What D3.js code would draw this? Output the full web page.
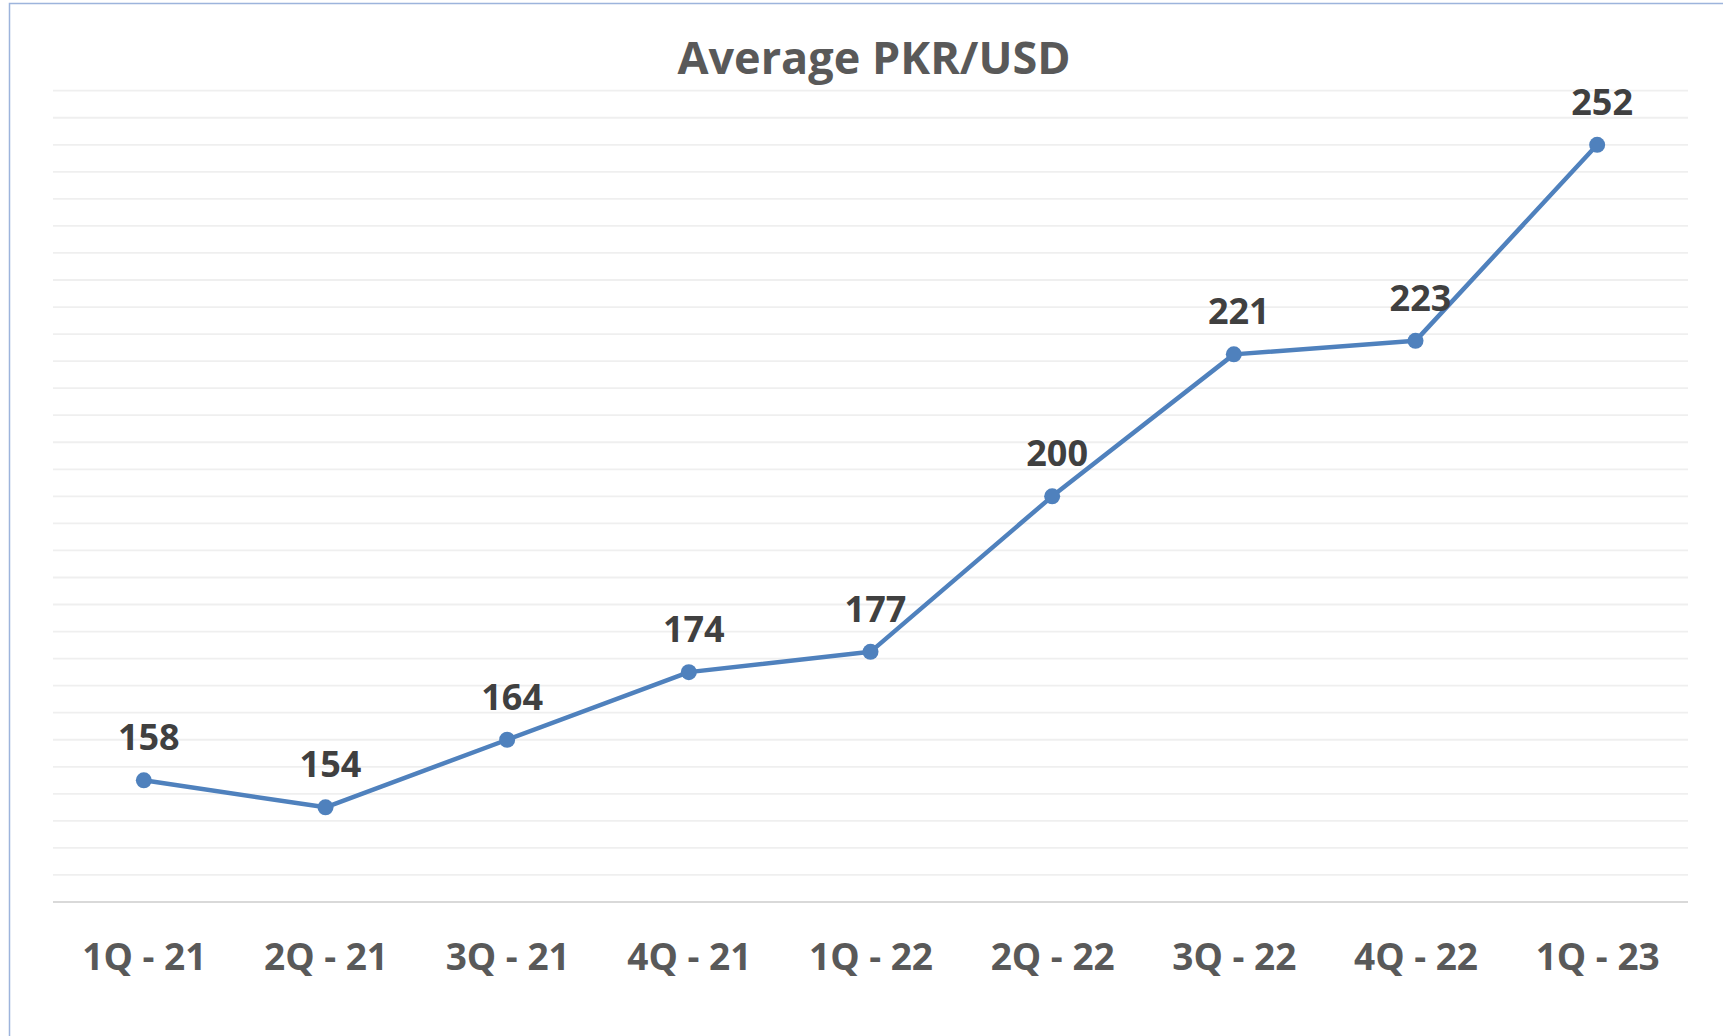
<!DOCTYPE html>
<html>
<head>
<meta charset="utf-8">
<script src="https://cdn.jsdelivr.net/npm/d3@7"></script>
<style>
  body { margin: 0; background: #fff; }
</style>
</head>
<body>
<div id="chart"></div>
<script>
// Chart data
const quarters = ["1Q - 21", "2Q - 21", "3Q - 21", "4Q - 21", "1Q - 22", "2Q - 22", "3Q - 22", "4Q - 22", "1Q - 23"];
const avgRate = [158, 154, 164, 174, 177, 200, 221, 223, 252];
const yTicks = d3.range(140, 261, 4); // gridline values

const chartTitle = "Average PKR/USD";

// Define the dimensions and margins for the SVG
const totalWidth = 1723, totalHeight = 1036;
const margin = {top: 90.7, right: 35, bottom: 134, left: 53};
const width = totalWidth - margin.left - margin.right,
      height = totalHeight - margin.top - margin.bottom;

const svg = d3.select("#chart").append("svg")
    .attr("width", totalWidth)
    .attr("height", totalHeight);

// Outer chart border (only top and left show in the frame)
svg.append("rect")
    .attr("x", 9.5)
    .attr("y", 3.5)
    .attr("width", totalWidth + 20)
    .attr("height", totalHeight + 20)
    .attr("fill", "none")
    .attr("stroke", "#9db4dc")
    .attr("stroke-width", 1.5);

const g = svg.append("g")
    .attr("transform", `translate(${margin.left},${margin.top})`);

// Scales
const x = d3.scalePoint()
    .domain(quarters)
    .range([0, width])
    .padding(0.5);

const y = d3.scaleLinear()
    .domain([140, 260])
    .range([height, 0]);

// Horizontal gridlines
g.append("g")
    .selectAll("line")
    .data(yTicks.filter(d => d > 140))
    .enter()
    .append("line")
    .attr("x1", 0)
    .attr("x2", width)
    .attr("y1", d => y(d))
    .attr("y2", d => y(d))
    .attr("stroke", "#efefef")
    .attr("stroke-width", 1.8);

// Category axis
const xAxis = g.append("g")
    .attr("transform", `translate(0,${height})`)
    .call(d3.axisBottom(x).tickSize(0).tickPadding(0));

xAxis.select(".domain")
    .attr("d", `M0,0H${width}`)
    .attr("stroke", "#d9d9d9")
    .attr("stroke-width", 2);

xAxis.selectAll("text")
    .attr("y", 68)
    .attr("dy", null)
    .attr("fill", "#595959")
    .style("font-family", "'Open Sans', sans-serif")
    .style("font-weight", "bold")
    .style("font-size", "37px");

// Title
svg.append("text")
    .attr("x", 874)
    .attr("y", 74)
    .attr("text-anchor", "middle")
    .attr("fill", "#595959")
    .style("font-family", "'Open Sans', sans-serif")
    .style("font-weight", "bold")
    .style("font-size", "45px")
    .text(chartTitle);

// Line
const points = quarters.map((q, i) => ({q: q, v: avgRate[i]}));

const line = d3.line()
    .x(d => x(d.q))
    .y(d => y(d.v));

g.append("path")
    .datum(points)
    .attr("fill", "none")
    .attr("stroke", "#4f81bd")
    .attr("stroke-width", 4.5)
    .attr("stroke-linejoin", "round")
    .attr("d", line);

// Markers
g.selectAll(".marker")
    .data(points)
    .enter()
    .append("circle")
    .attr("class", "marker")
    .attr("cx", d => x(d.q))
    .attr("cy", d => y(d.v))
    .attr("r", 8)
    .attr("fill", "#4f81bd");

// Data labels
g.selectAll(".label")
    .data(points)
    .enter()
    .append("text")
    .attr("class", "label")
    .attr("x", d => x(d.q) + 5)
    .attr("y", d => y(d.v) - 30)
    .attr("text-anchor", "middle")
    .attr("fill", "#404040")
    .style("font-family", "'Open Sans', sans-serif")
    .style("font-weight", "bold")
    .style("font-size", "36px")
    .text(d => d.v);
</script>
</body>
</html>
